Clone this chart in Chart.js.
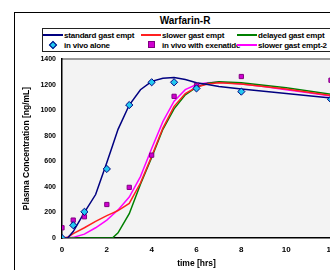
<!DOCTYPE html>
<html>
<head>
<meta charset="utf-8">
<script src="https://cdn.jsdelivr.net/npm/chart.js@4"></script>
<style>
  html, body { margin: 0; padding: 0; background: #fff; overflow: hidden; }
  body { width: 330px; height: 270px; position: relative; font-family: "Liberation Sans", Arial, sans-serif; }
  #frame { position: absolute; left: 14px; top: 12px; width: 420px; height: 320px; border: 1px solid #000; box-sizing: border-box; }
  #title { position: absolute; left: 135px; top: 15px; width: 100px; text-align: center; font-size: 10px; font-weight: bold; }
  #legend { position: absolute; left: 42px; top: 28px; width: 300px; height: 24px; border: 1px solid #222; box-sizing: border-box; font-size: 8px; font-weight: bold; letter-spacing: -0.2px; }
  .item { position: absolute; height: 10px; line-height: 10px; white-space: nowrap; }
  .sw { display: inline-block; vertical-align: middle; margin-right: 1px; }
  #wrap { position: absolute; left: 0; top: 0; width: 380px; height: 270px; }
</style>
</head>
<body>
<div id="frame"></div>
<div id="title">Warfarin-R</div>
<div id="legend"></div>
<div id="wrap"><canvas id="chart"></canvas></div>
<script>
// time grid for the simulated curves
const simTimes = [0, 0.25, 0.5, 1, 1.5, 2, 2.25, 2.5, 3, 3.5, 4, 4.5, 5, 5.5, 6, 6.5, 7, 8, 9, 10, 11, 12];
const standardGast = [0, 0, 50, 200, 340, 590, 720, 850, 1040, 1160, 1225, 1250, 1255, 1240, 1215, 1200, 1185, 1165, 1148, 1130, 1112, 1095];
const slowerGast   = [0, 5, 35, 80, 130, 175, 195, 215, 270, 430, 640, 860, 1030, 1130, 1180, 1205, 1215, 1205, 1185, 1165, 1140, 1115];
const delayedGast  = [0, 0, 0, 0, 0, 0, 0, 40, 190, 420, 630, 850, 1010, 1120, 1180, 1210, 1222, 1215, 1195, 1175, 1150, 1125];
const slowerGast2  = [0, 0, 5, 30, 80, 140, 180, 220, 320, 480, 700, 910, 1070, 1160, 1200, 1215, 1218, 1205, 1185, 1160, 1135, 1110];

// observed data
const obsTimes = [0, 0.5, 1, 2, 3, 4, 5, 6, 8, 12];
const vivoAlone = [0, 100, 205, 540, 1040, 1218, 1218, 1170, 1145, 1085];
const vivoExenatide = [80, 140, 166, 262, 396, 648, 1108, 1193, 1263, 1234];

const xTicks = [0, 2, 4, 6, 8, 10, 12];

const pts = (xs, ys) => xs.map((x, i) => ({ x: x, y: ys[i] }));

const lineDs = (label, data, color) => ({
    type: 'line', label: label, data: pts(simTimes, data),
    borderColor: color, backgroundColor: color, borderWidth: 1.5,
    pointRadius: 0, tension: 0, fill: false, order: 2
});

const datasets = [
    lineDs('standard gast empt', standardGast, '#000080'),
    lineDs('slower gast empt', slowerGast, '#ff2020'),
    lineDs('delayed gast empt', delayedGast, '#008000'),
    {
        type: 'scatter', label: 'in vivo alone', data: pts(obsTimes, vivoAlone),
        pointStyle: 'rectRot', pointRadius: 3.6, backgroundColor: '#22c8f0',
        borderColor: '#000080', borderWidth: 1, order: 0
    },
    {
        type: 'scatter', label: 'in vivo with exenatide', data: pts(obsTimes, vivoExenatide),
        pointStyle: 'rect', pointRadius: 3, backgroundColor: '#d000d0',
        borderColor: '#800080', borderWidth: 1, order: 1
    },
    lineDs('slower gast empt-2', slowerGast2, '#ff00ff')
];

// html legend, three columns
const legend = document.getElementById('legend');
const cols = [0, 98, 194];
datasets.forEach((ds, i) => {
    const el = document.createElement('div');
    el.className = 'item';
    el.style.left = cols[i % 3] + 'px';
    el.style.top = (i < 3 ? 1.5 : 11.5) + 'px';
    let sw;
    if (ds.type === 'line') {
        sw = '<span class="sw" style="width:20px;height:2px;background:' + ds.borderColor + '"></span>';
    } else if (ds.pointStyle === 'rectRot') {
        sw = '<span class="sw" style="width:20px;text-align:center"><span style="display:inline-block;width:4px;height:4px;background:' + ds.backgroundColor + ';border:1px solid ' + ds.borderColor + ';transform:rotate(45deg)"></span></span>';
    } else {
        sw = '<span class="sw" style="width:20px;text-align:center"><span style="display:inline-block;width:5px;height:5px;background:' + ds.backgroundColor + ';border:1px solid ' + ds.borderColor + '"></span></span>';
    }
    el.innerHTML = sw + ds.label;
    legend.appendChild(el);
});

// grey plot background + grey top border
const plotBg = {
    id: 'plotBg',
    beforeDraw(chart) {
        const a = chart.chartArea, c = chart.ctx;
        c.save();
        c.fillStyle = '#f3f3f3';
        c.fillRect(a.left, a.top, a.right - a.left, a.bottom - a.top);
        c.strokeStyle = '#9a9a9a';
        c.lineWidth = 2;
        c.beginPath();
        c.moveTo(a.left, a.top);
        c.lineTo(a.right, a.top);
        c.lineTo(a.right, a.bottom);
        c.stroke();
        c.restore();
    }
};

const tickFont = { family: 'Liberation Sans', size: 8, weight: 'bold' };

new Chart(document.getElementById('chart'), {
    data: { datasets: datasets },
    plugins: [plotBg],
    options: {
        responsive: true,
        maintainAspectRatio: false,
        animation: false,
        layout: { padding: { top: 59, right: 49, left: 20, bottom: 0 } },
        plugins: { legend: { display: false }, title: { display: false }, tooltip: { enabled: false } },
        scales: {
            x: {
                type: 'linear', min: 0, max: 12,
                afterBuildTicks: s => { s.ticks = xTicks.map(v => ({ value: v })); },
                afterFit: s => { s.height = 32; },
                grid: { display: false, drawTicks: true, tickLength: 3, color: '#000' },
                border: { color: '#000', width: 1.5 },
                ticks: { color: '#000', font: tickFont, padding: 4, maxRotation: 0 },
                title: { display: true, text: 'time [hrs]', color: '#000', font: { family: 'Liberation Sans', size: 8.5, weight: 'bold' }, padding: { top: 0, bottom: 1 } }
            },
            y: {
                min: 0, max: 1400,
                afterFit: s => { s.width = 42; },
                grid: { display: false, tickLength: 3 },
                border: { color: '#000', width: 1.5 },
                ticks: { stepSize: 200, color: '#000', font: { family: 'Liberation Sans', size: 7, weight: 'bold' }, padding: 3, callback: v => String(v) },
                title: { display: true, text: 'Plasma Concentration [ng/mL]', color: '#000', font: { family: 'Liberation Sans', size: 8.5, weight: 'bold' }, padding: { top: 2, bottom: 0 } }
            }
        }
    }
});
</script>
</body>
</html>
